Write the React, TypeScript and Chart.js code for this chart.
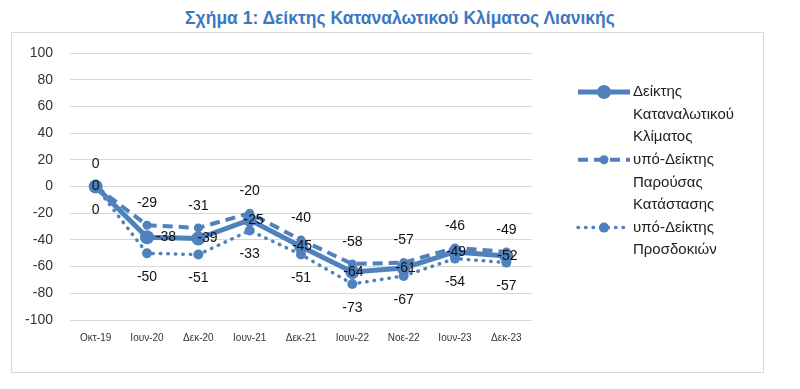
import React, { useEffect, useRef } from "react";
import { Chart, registerables } from "chart.js";

Chart.register(...registerables);

const titleText = "Σχήμα 1: Δείκτης Καταναλωτικού Κλίματος Λιανικής";
const categories = ["Οκτ-19", "Ιουν-20", "Δεκ-20", "Ιουν-21", "Δεκ-21", "Ιουν-22", "Νοε-22", "Ιουν-23", "Δεκ-23"];
const climateIndex = [0, -38, -39, -25, -45, -64, -61, -49, -52];
const currentSituation = [0, -29, -31, -20, -40, -58, -57, -46, -49];
const expectations = [0, -50, -51, -33, -51, -73, -67, -54, -57];
const climateName = ["Δείκτης", "Καταναλωτικού", "Κλίματος"];
const currentName = ["υπό-Δείκτης", "Παρούσας", "Κατάστασης"];
const expectationsName = ["υπό-Δείκτης", "Προσδοκιών"];
const yMin = -100;
const yMax = 100;
const yStep = 20;

const BLUE = "#4F81BD";
const FONT = '"Liberation Sans", Arial, sans-serif';

const labelPlugin = {
  id: "valueLabels",
  afterDatasetsDraw(chart: any) {
    const ctx = chart.ctx;
    ctx.save();
    ctx.font = `14px ${FONT}`;
    ctx.fillStyle = "#111";
    ctx.textAlign = "center";
    ctx.textBaseline = "middle";
    chart.data.datasets.forEach((ds: any, i: number) => {
      const meta = chart.getDatasetMeta(i);
      const cfg = ds.labelCfg || { dy: 0 };
      meta.data.forEach((pt: any, j: number) => {
        const dx = cfg.dx ? cfg.dx[j] : 0;
        ctx.fillText(String(ds.data[j]), pt.x + dx, pt.y + cfg.dy);
      });
    });
    ctx.restore();
  },
};

const legendPlugin = {
  id: "sideLegend",
  afterDraw(chart: any) {
    const ctx = chart.ctx;
    const x0 = chart.chartArea.right + 46;
    const x1 = x0 + 52;
    const tx = x1 + 3;
    const lh = 22.6;
    let y = 59;
    ctx.save();
    chart.data.datasets.forEach((ds: any) => {
      ctx.strokeStyle = ds.borderColor;
      ctx.lineWidth = ds.borderWidth;
      ctx.lineCap = ds.borderCapStyle || "butt";
      ctx.setLineDash(ds.borderDash || []);
      ctx.beginPath();
      ctx.moveTo(x0, y);
      ctx.lineTo(x1, y);
      ctx.stroke();
      ctx.setLineDash([]);
      ctx.fillStyle = ds.pointBackgroundColor;
      ctx.beginPath();
      ctx.arc((x0 + x1) / 2, y, ds.pointRadius, 0, Math.PI * 2);
      ctx.fill();
      ctx.fillStyle = "#222";
      ctx.font = `15px ${FONT}`;
      ctx.textAlign = "left";
      ctx.textBaseline = "middle";
      (ds.legendLines as string[]).forEach((line: string, k: number) => {
        ctx.fillText(line, tx, y + k * lh);
      });
      y += ds.legendLines.length * lh;
    });
    ctx.restore();
  },
};

export default function App() {
  const ref = useRef<HTMLCanvasElement>(null);
  useEffect(() => {
    if (!ref.current) return;
    const chart = new Chart(ref.current, {
      type: "line",
      data: {
        labels: categories,
        datasets: [
          {
            label: climateName.join(" "),
            data: climateIndex,
            borderColor: BLUE,
            backgroundColor: BLUE,
            pointBackgroundColor: BLUE,
            pointBorderColor: BLUE,
            borderWidth: 5,
            pointRadius: 7,
            pointBorderWidth: 0,
            tension: 0,
            legendLines: climateName,
            labelCfg: { dy: 0, dx: [0, 19, 9, 4, 1, 1, 2, 1, 1] },
          } as any,
          {
            label: currentName.join(" "),
            data: currentSituation,
            borderColor: BLUE,
            backgroundColor: BLUE,
            pointBackgroundColor: BLUE,
            pointBorderColor: BLUE,
            borderWidth: 4,
            borderDash: [10, 6],
            pointRadius: 4.5,
            pointBorderWidth: 0,
            tension: 0,
            legendLines: currentName,
            labelCfg: { dy: -22 },
          } as any,
          {
            label: expectationsName.join(" "),
            data: expectations,
            borderColor: BLUE,
            backgroundColor: BLUE,
            pointBackgroundColor: BLUE,
            pointBorderColor: BLUE,
            borderWidth: 3.5,
            borderDash: [0.5, 7],
            borderCapStyle: "round",
            pointRadius: 5,
            pointBorderWidth: 0,
            tension: 0,
            legendLines: expectationsName,
            labelCfg: { dy: 24 },
          } as any,
        ],
      },
      options: {
        animation: false,
        responsive: false,
        layout: { padding: { left: 0, right: 231, top: 20, bottom: 0 } },
        plugins: {
          legend: { display: false },
          tooltip: { enabled: false },
          title: { display: false },
        },
        scales: {
          x: {
            offset: true,
            grid: { display: false, drawTicks: false },
            border: { display: false },
            ticks: {
              color: "#333",
              font: { family: FONT, size: 10 },
              padding: 12,
              maxRotation: 0,
              autoSkip: false,
            },
            afterFit: (axis: any) => {
              axis.height = 52;
              axis.paddingLeft = 0;
              axis.paddingRight = 0;
            },
          },
          y: {
            min: yMin,
            max: yMax,
            grid: { color: "#d9d9d9", lineWidth: 1, drawTicks: false },
            border: { display: false },
            ticks: {
              stepSize: yStep,
              color: "#333",
              font: { family: FONT, size: 14 },
              padding: 17,
            },
            afterFit: (axis: any) => {
              axis.width = 58;
              axis.paddingTop = 8;
              axis.paddingBottom = 8;
            },
          },
        },
      },
      plugins: [labelPlugin, legendPlugin],
    });
    return () => chart.destroy();
  }, []);

  return (
    <div
      style={{
        position: "absolute",
        left: 0,
        top: 0,
        width: 800,
        height: 389,
        background: "#fff",
        fontFamily: FONT,
      }}
    >
      <div
        style={{
          position: "absolute",
          left: 0,
          top: 7,
          width: 800,
          textAlign: "center",
          color: "#3C78C2",
          fontWeight: "bold",
          fontSize: 17.5,
          fontFamily: FONT,
          lineHeight: "22px",
        }}
      >
        {titleText}
      </div>
      <div
        style={{
          position: "absolute",
          left: 11,
          top: 32,
          width: 751,
          height: 339,
          border: "1px solid #d9d9d9",
        }}
      >
        <canvas ref={ref} width={751} height={339} style={{ display: "block", width: 751, height: 339 }} />
      </div>
    </div>
  );
}
